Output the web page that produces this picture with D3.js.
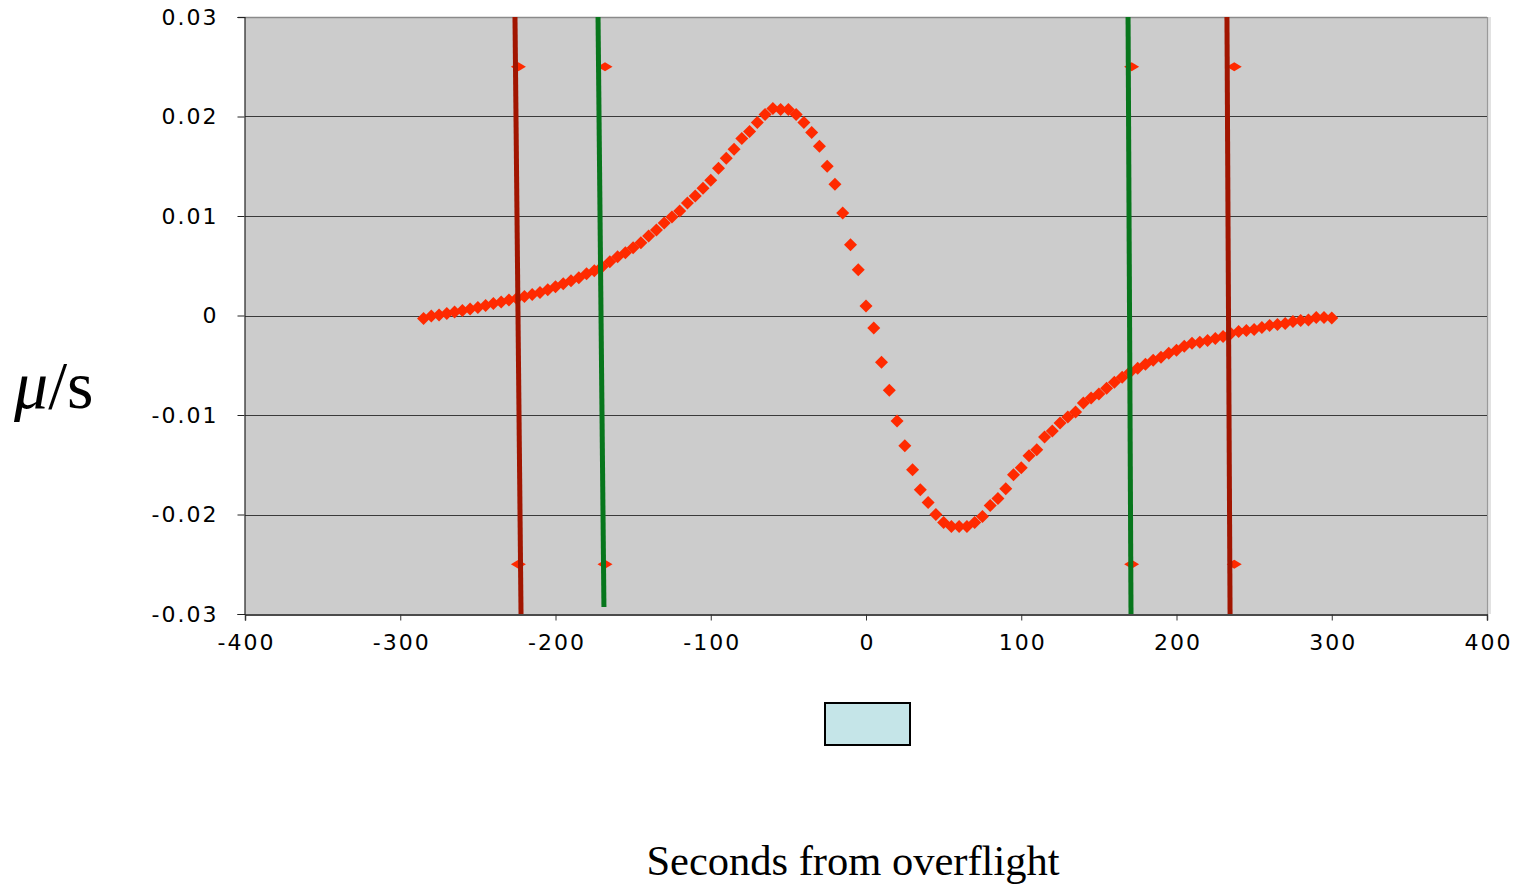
<!DOCTYPE html>
<html>
<head>
<meta charset="utf-8">
<script src="https://cdn.jsdelivr.net/npm/d3@7"></script>
<style>
  body { margin: 0; background: #fff; }
  svg { display: block; }
</style>
</head>
<body>
<svg id="chart" width="1513" height="884"></svg>
<script>
// seconds from overflight, every 5 s
const times = d3.range(-285, 301, 5);
const rates = [
  -0.0003, -0.00005, 0.00005, 0.0002, 0.00035, 0.0005, 0.00065, 0.0008, 0.001, 0.0012,
  0.00135, 0.00155, 0.0017, 0.0019, 0.0021, 0.0023, 0.0026, 0.0029, 0.0032, 0.0035,
  0.0038, 0.0042, 0.0045, 0.0049, 0.0054, 0.0059, 0.0063, 0.0068, 0.0073, 0.0080,
  0.0086, 0.0093, 0.0099, 0.0105, 0.0113, 0.0120, 0.0128, 0.0136, 0.0148, 0.0158,
  0.0167, 0.0178, 0.0185, 0.0194, 0.0202, 0.0208, 0.0207, 0.0207, 0.0202, 0.0194,
  0.0184, 0.0170, 0.0150, 0.0132, 0.0103, 0.0071, 0.0046, 0.00095, -0.00126, -0.0047,
  -0.0075, -0.0106, -0.0131, -0.0155, -0.0175, -0.0188, -0.0200, -0.0208, -0.0212, -0.0212,
  -0.0212, -0.0208, -0.0202, -0.0191, -0.0184, -0.0174, -0.0160, -0.0153, -0.0141, -0.0135,
  -0.0122, -0.0116, -0.0108, -0.0102, -0.0097, -0.0088, -0.0083, -0.0079, -0.0073, -0.0067,
  -0.0062, -0.0057, -0.0053, -0.0049, -0.0045, -0.0042, -0.0038, -0.0035, -0.0031, -0.0028,
  -0.0027, -0.0025, -0.0023, -0.0021, -0.0018, -0.0016, -0.0015, -0.0014, -0.0012, -0.0010,
  -0.0009, -0.0008, -0.0006, -0.0005, -0.00045, -0.0002, -0.0002, -0.00025
];

// boundary lines (top x, bottom x, bottom y) and their marker x
const lineTopX = [-226.1, -172.6, 168.8, 232.5];
const lineBotX = [-222.2, -168.8, 170.7, 234.5];
const lineBotY = [-0.03, -0.0293, -0.03, -0.03];
const markX = [-223.9, -168.1, 171.1, 237.2];
const markY = [0.025, -0.025];

const xTicks = [-400, -300, -200, -100, 0, 100, 200, 300, 400];
const yTicks = [0.03, 0.02, 0.01, 0, -0.01, -0.02, -0.03];
const yTickLabels = ["0.03", "0.02", "0.01", "0", "-0.01", "-0.02", "-0.03"];

const svg = d3.select("#chart");
const plotL = 245, plotR = 1487, plotT = 17, plotB = 614;

const x = d3.scaleLinear().domain([-400, 400]).range([plotL, plotR]);
const y = d3.scaleLinear().domain([-0.03, 0.03]).range([plotB, plotT]);

// plot area
svg.append("rect").attr("x", plotR).attr("y", plotT).attr("width", 4).attr("height", plotB - plotT).attr("fill", "#e2e2e2");
svg.append("rect")
  .attr("x", plotL).attr("y", plotT)
  .attr("width", plotR - plotL).attr("height", plotB - plotT)
  .attr("fill", "#cccccc");
svg.append("line").attr("x1", plotL - 7).attr("x2", plotR).attr("y1", plotT + 0.5).attr("y2", plotT + 0.5)
  .attr("stroke", "#8a8a8a").attr("stroke-width", 1.5);
svg.append("line").attr("x1", plotR + 0.5).attr("x2", plotR + 0.5).attr("y1", plotT).attr("y2", plotB)
  .attr("stroke", "#9a9a9a").attr("stroke-width", 1.2);

// gridlines
svg.append("g")
  .selectAll("line")
  .data(yTicks.filter(d => d !== 0.03 && d !== -0.03))
  .enter().append("line")
  .attr("x1", plotL).attr("x2", plotR)
  .attr("y1", d => Math.round(y(d)) + 0.5).attr("y2", d => Math.round(y(d)) + 0.5)
  .attr("stroke", "#3a3a3a").attr("stroke-width", 1);

const fontAxis = "'DejaVu Sans', Verdana, sans-serif";

// y axis
const yAxis = svg.append("g")
  .attr("transform", `translate(${plotL - 0.5},0)`)
  .call(d3.axisLeft(y).tickValues(yTicks).tickSize(7).tickPadding(19)
    .tickFormat((d, i) => yTickLabels[i]));
yAxis.select(".domain").attr("stroke", "#222").attr("stroke-width", 1.2);
yAxis.selectAll(".tick line").attr("stroke", "#222");
yAxis.selectAll("text")
  .style("font-family", fontAxis).style("font-size", "22px")
  .style("letter-spacing", "2px").attr("fill", "#000");

// x axis
const xAxis = svg.append("g")
  .attr("transform", `translate(0,${plotB + 0.5})`)
  .call(d3.axisBottom(x).tickValues(xTicks).tickSize(6).tickPadding(14).tickFormat(d => String(d)));
xAxis.select(".domain").attr("stroke", "#111").attr("stroke-width", 1.4);
xAxis.selectAll(".tick line").attr("stroke", "#333");
xAxis.selectAll("text")
  .style("font-family", fontAxis).style("font-size", "22px")
  .style("letter-spacing", "2px").attr("fill", "#000")
  .attr("dx", "1px");

// data points
const diamond = "M0,-6.5L6.5,0L0,6.5L-6.5,0Z";
svg.append("g")
  .selectAll("path")
  .data(times.map((t, i) => [t, rates[i]]))
  .enter().append("path")
  .attr("d", diamond)
  .attr("transform", d => `translate(${x(d[0])},${y(d[1])})`)
  .attr("fill", "#ff2a00");

// small markers on boundary lines
const smallDiamond = "M0,-4.5L7.5,0L0,4.5L-7.5,0Z";
const marks = [];
markX.forEach(mx => markY.forEach(my => marks.push([mx, my])));
svg.append("g")
  .selectAll("path")
  .data(marks)
  .enter().append("path")
  .attr("d", smallDiamond)
  .attr("transform", d => `translate(${x(d[0])},${y(d[1])})`)
  .attr("fill", "#ff2a00");

// boundary lines
const lineColors = ["#a11500", "#07761c", "#07761c", "#a11500"];
svg.append("g")
  .selectAll("line")
  .data(lineTopX.map((tx, i) => ({ tx, bx: lineBotX[i], by: lineBotY[i], c: lineColors[i] })))
  .enter().append("line")
  .attr("x1", d => x(d.tx)).attr("y1", y(0.03))
  .attr("x2", d => x(d.bx)).attr("y2", d => y(d.by))
  .attr("stroke", d => d.c).attr("stroke-width", 5);

// legend box (empty)
svg.append("rect")
  .attr("x", 825).attr("y", 703).attr("width", 85).attr("height", 42)
  .attr("fill", "#c5e5e8").attr("stroke", "#000").attr("stroke-width", 2);

// axis titles
const yTitle = svg.append("text")
  .attr("x", 14).attr("y", 408)
  .style("font-family", "'Liberation Serif', 'Times New Roman', serif")
  .style("font-size", "68px").attr("fill", "#000");
yTitle.append("tspan").style("font-style", "italic").text("μ");
yTitle.append("tspan").text("/s");

svg.append("text")
  .attr("x", 853).attr("y", 875)
  .attr("text-anchor", "middle")
  .style("font-family", "'Liberation Serif', 'Times New Roman', serif")
  .style("font-size", "42.5px").attr("fill", "#000")
  .text("Seconds from overflight");
</script>
</body>
</html>
